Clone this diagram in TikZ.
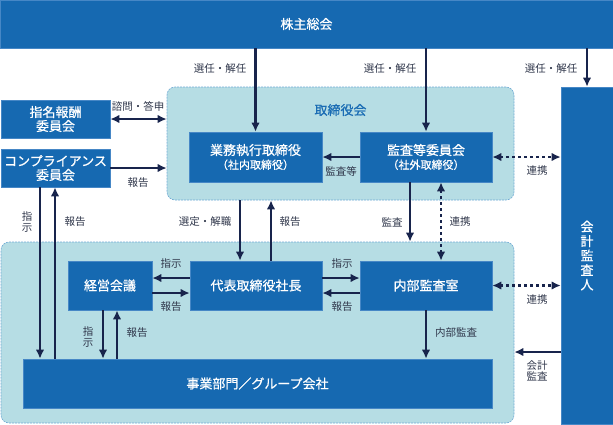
\documentclass[tikz,border=0pt]{standalone}
\usepackage{fontspec}
\setmainfont{Noto Sans CJK JP}[AutoFakeBold=0.7]
\usetikzlibrary{arrows.meta,positioning}

\definecolor{boxblue}{RGB}{22,105,177}
\definecolor{boxedge}{RGB}{70,135,198}
\definecolor{areafill}{RGB}{182,221,228}
\definecolor{areaedge}{RGB}{112,170,212}
\definecolor{arrcol}{RGB}{24,36,76}
\definecolor{lbltext}{RGB}{48,55,75}
\definecolor{areatext}{RGB}{26,108,180}

\tikzset{
  blk/.style={fill=boxblue, draw=boxedge, line width=0.6pt, text=white, inner sep=0pt,
    align=center, font=\fontsize{13}{16}\selectfont\bfseries},
  area/.style={fill=areafill, draw=areaedge, dash pattern=on 2pt off 1pt, line width=0.6pt,
    rounded corners=8pt, inner sep=0pt},
  lbl/.style={text=lbltext, font=\fontsize{10.5}{11.5}\selectfont, inner sep=0pt, align=center},
  arr/.style={draw=arrcol, line width=2.6pt, -{Latex[length=9pt,width=8.5pt]}},
  biarr/.style={draw=arrcol, line width=2.6pt, {Latex[length=9pt,width=8.5pt]}-{Latex[length=9pt,width=8.5pt]}},
  dotarr/.style={biarr, dash pattern=on 3pt off 3pt}
}

\begin{document}
\begin{tikzpicture}[x=1pt,y=-1pt]
\useasboundingbox (0,0) rectangle (613,424);

% areas
\node[area, minimum width=347pt, minimum height=113pt] (tori) at (340.5,143.5) {};
\node[area, minimum width=513pt, minimum height=181pt] (lower) at (257.5,332.5) {};
\node[text=areatext, font=\fontsize{13}{16}\selectfont\bfseries, inner sep=0pt] (tori-t) at (340.5,110) {取締役会};

% boxes
\node[blk, minimum width=613pt, minimum height=48pt] (kabu) at (306.5,24) {株主総会};
\node[blk, minimum width=109pt, minimum height=38pt] (shimei) at (55.5,119) {指名報酬\\[-2pt]委員会};
\node[blk, minimum width=109pt, minimum height=38pt] (compl) at (55.5,168) {コンプライアンス\\[-2pt]委員会};
\node[blk, minimum width=133pt, minimum height=50pt] (gyomu) at (255.5,157) {業務執行取締役\\[-2pt]\fontsize{11}{12}\selectfont（社内取締役）};
\node[blk, minimum width=132pt, minimum height=50pt] (kansa) at (426,157) {監査等委員会\\[-2pt]\fontsize{11}{12}\selectfont（社外取締役）};
\node[blk, minimum width=52pt, minimum height=337pt, font=\fontsize{13}{14.5}\selectfont\bfseries] (kaikei) at (587,255.5) {会\\計\\監\\査\\人};
\node[blk, minimum width=84pt, minimum height=49pt] (keiei) at (110,285.5) {経営会議};
\node[blk, minimum width=132pt, minimum height=49pt] (daihyo) at (256,285.5) {代表取締役社長};
\node[blk, minimum width=132pt, minimum height=49pt] (naibu) at (426,285.5) {内部監査室};
\node[blk, minimum width=469pt, minimum height=49pt] (jigyo) at (257.5,383.5) {事業部門／グループ会社};
\coordinate (kk) at (561,352);

% connectors
\draw[arr] (kabu.south -| gyomu.north) -- (gyomu.north);
\draw[arr] (kabu.south -| kansa.north) -- (kansa.north);
\draw[arr] (kabu.south -| kaikei.north) -- (kaikei.north);
\draw[biarr] (shimei.east) -- (shimei.east -| tori.west);
\draw[arr] (compl.east) -- (compl.east -| tori.west);
\draw[arr] (kansa.west) -- (gyomu.east);
\draw[dotarr] (kansa.east) -- (kansa.east -| kaikei.west);
\draw[arr] ([xshift=-16pt]daihyo.north |- tori.south) -- ([xshift=-16pt]daihyo.north);
\draw[arr] ([xshift=15pt]daihyo.north) -- ([xshift=15pt]daihyo.north |- tori.south);
\draw[arr] ([xshift=-16pt]kansa.south) -- ([xshift=-16pt]kansa.south |- lower.north);
\draw[dotarr] ([xshift=15pt]kansa.south) -- ([xshift=15pt]naibu.north);
\draw[arr] ([yshift=7.5pt]daihyo.west) -- ([yshift=7.5pt]daihyo.west -| keiei.east);
\draw[arr] ([yshift=-7.5pt]keiei.east) -- ([yshift=-7.5pt]keiei.east -| daihyo.west);
\draw[arr] ([yshift=7.5pt]daihyo.east) -- ([yshift=7.5pt]daihyo.east -| naibu.west);
\draw[arr] ([yshift=-7.5pt]naibu.west) -- ([yshift=-7.5pt]naibu.west -| daihyo.east);
\draw[dotarr] (naibu.east) -- (naibu.east -| kaikei.west);
\draw[arr] ([xshift=-15.5pt]compl.south) -- ([xshift=-15.5pt]compl.south |- jigyo.north);
\draw[arr] ([xshift=-0.5pt]compl.south |- jigyo.north) -- ([xshift=-0.5pt]compl.south);
\draw[arr] ([xshift=-7pt]keiei.south) -- ([xshift=-7pt]keiei.south |- jigyo.north);
\draw[arr] ([xshift=7pt]keiei.south |- jigyo.north) -- ([xshift=7pt]keiei.south);
\draw[arr] (naibu.south) -- (naibu.south |- jigyo.north);
\draw[arr] (kk) -- (kk -| lower.east);

% labels
\node[lbl] (l-sen1) at (220,69) {選任・解任};
\node[lbl] (l-sen2) at (390,69) {選任・解任};
\node[lbl] (l-sen3) at (551,69) {選任・解任};
\node[lbl] (l-shimon) at (138,106) {諮問・答申};
\node[lbl] (l-hou1) at (138,183) {報告};
\node[lbl] (l-kansato) at (341,171) {監査等};
\node[lbl] (l-renkei1) at (537,171) {連携};
\node[lbl] (l-sentei) at (205,222) {選定・解職};
\node[lbl] (l-hou2) at (290,222) {報告};
\node[lbl] (l-kansa) at (392,222) {監査};
\node[lbl] (l-renkei2) at (460,222) {連携};
\node[lbl] (l-shiji1) at (27,222) {指\\示};
\node[lbl] (l-hou3) at (75,222) {報告};
\node[lbl] (l-shiji2) at (171,264) {指示};
\node[lbl] (l-hou4) at (171,307) {報告};
\node[lbl] (l-shiji3) at (342,264) {指示};
\node[lbl] (l-hou5) at (342,307) {報告};
\node[lbl] (l-renkei3) at (537,300) {連携};
\node[lbl] (l-shiji4) at (88,337) {指\\示};
\node[lbl] (l-hou6) at (137,333) {報告};
\node[lbl] (l-naibu) at (456,333) {内部監査};
\node[lbl] (l-kaikei) at (537,371) {会計\\監査};
\end{tikzpicture}
\end{document}
